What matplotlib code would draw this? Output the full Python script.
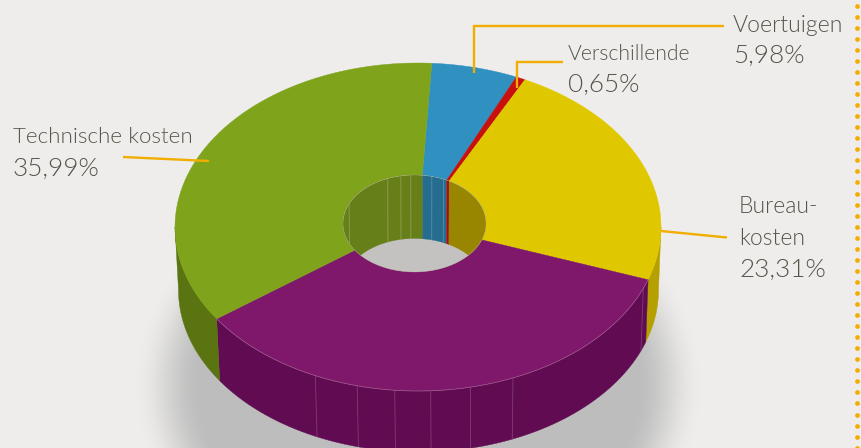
import numpy as np
import matplotlib
matplotlib.use("Agg")
import matplotlib.pyplot as plt
from matplotlib import font_manager as fm
from matplotlib.patches import Ellipse, Polygon

# ---- data (clockwise from the top)
categories = ["Voertuigen", "Verschillende", "Bureau-\nkosten", "Overig", "Technische kosten"]
shares = [5.98, 0.65, 23.31, 34.07, 35.99]
label_texts = ["5,98%", "0,65%", "23,31%", "", "35,99%"]

# ---- styles
top_colors = ["#3090C0", "#C8100F", "#E0C800", "#7F176B", "#7FA31A"]
outer_wall_colors = ["#24708F", "#8E0A0A", "#B5A000", "#600B52", "#5A7412"]
inner_wall_colors = ["#256C8E", "#A81010", "#988600", "#5E0F50", "#667F18"]
BG = "#EEEDEB"
ORANGE = "#F2AE00"
TXT = "#55554A"
START = 86.6
P = 0.045         # slight perspective of the disc
DEPTH = 63
OUT_TOP = dict(cx=418, cy=227, rx=243, ry=164)
OUT_BOT = dict(cx=418.5, cy=227 + DEPTH, rx=240, ry=162)
IN_TOP = dict(cx=414.5, cy=223.5, rx=71.5, ry=48.5)
IN_BOT = dict(cx=414.5, cy=223.5 + DEPTH, rx=71, ry=48)
OUT_SEAMS = [-115, -104.5, -95.5, -87, -77.5, -67, -22]
IN_SEAMS = [156, 112, 101, 93, 76, 66]

# pick Lato Light by file, since the weight lookup lands on Hairline
light = [f.fname for f in fm.fontManager.ttflist
         if f.name.startswith("Lato") and f.fname.endswith("Lato-Light.ttf")]
FP = fm.FontProperties(fname=light[0]) if light else fm.FontProperties(family="Lato")

fig = plt.figure(figsize=(8.61, 4.48), dpi=100, facecolor=BG)
ax = fig.add_axes([0, 0, 1, 1])
ax.set_xlim(0, 861)
ax.set_ylim(448, 0)
ax.axis("off")


def warp(deg):
    t = np.radians(deg)
    w = 1 + P * np.sin(t)
    x = np.cos(t) / w * np.sqrt(1 - P ** 2)
    y = (np.sin(t) / w + P / (1 - P ** 2)) * (1 - P ** 2)
    return np.degrees(np.arctan2(y, x))


def inner_angle(a):
    return a - 3.0 * (1 + np.sin(np.radians(a))) / 2


def arc(e, a0, a1, n=None):
    n = n or max(2, int(abs(a1 - a0)) + 2)
    t = np.radians(np.linspace(a0, a1, n))
    return np.column_stack([e["cx"] + e["rx"] * np.cos(t), e["cy"] - e["ry"] * np.sin(t)])


def overlap(lo, hi, wlo, whi):
    """Part of [lo, hi] inside the window, trying whole-turn shifts."""
    for k in (-360, 0, 360):
        a, b = max(lo + k, wlo), min(hi + k, whi)
        if b > a:
            return a, b
    return None


# soft shadow
yy, xx = np.mgrid[0:448, 0:861]
d = np.sqrt(((xx - 418) / 285.0) ** 2 + ((yy - 385) / 225.0) ** 2)
f = np.clip((1.0 - d) / 0.24, 0, 1)
f = f * f * (3 - 2 * f)
rgba = np.zeros((448, 861, 4))
rgba[..., :3] = 0.745
rgba[..., 3] = f
ax.imshow(rgba, extent=(0, 861, 448, 0), aspect="auto", zorder=1, interpolation="bilinear")

# segment boundaries from the values
cum = START - np.concatenate([[0], np.cumsum(shares)]) * 360.0 / sum(shares)
bounds = [(warp(float(cum[i + 1])), warp(float(cum[i]))) for i in range(len(shares))]
bounds = [(lo - 360 if lo > hi else lo, hi) for lo, hi in bounds]
in_bounds = [(inner_angle(lo), inner_angle(hi)) for lo, hi in bounds]

# outer wall
for (lo, hi), col in zip(bounds, outer_wall_colors):
    ov = overlap(lo, hi, -180, 0)
    if ov:
        pts = np.vstack([arc(OUT_TOP, ov[0], ov[1]), arc(OUT_BOT, ov[1], ov[0])])
        ax.add_patch(Polygon(pts, closed=True, fc=col, ec=col, lw=0.3, zorder=2))
for s in OUT_SEAMS:
    p, q = arc(OUT_TOP, s, s, 2)[0], arc(OUT_BOT, s, s, 2)[0]
    ax.plot([p[0], q[0]], [p[1], q[1]], color="#8A4A7E", lw=0.6, alpha=0.8, zorder=3)

# top face
for (lo, hi), (ilo, ihi), col in zip(bounds, in_bounds, top_colors):
    pts = np.vstack([arc(OUT_TOP, lo, hi), arc(IN_TOP, ihi, ilo)])
    ax.add_patch(Polygon(pts, closed=True, fc=col, ec=col, lw=0.3, zorder=4))
rim = arc(OUT_TOP, bounds[3][0], bounds[3][1])
ax.plot(rim[:, 0], rim[:, 1], color="#A0608F", lw=0.5, zorder=5)

# hole: floor seen through, then inner wall clipped to the hole
hole = Ellipse((IN_TOP["cx"], IN_TOP["cy"]), 2 * IN_TOP["rx"], 2 * IN_TOP["ry"],
               fc="#C3C2C0", ec="none", zorder=5)
ax.add_patch(hole)
for (lo, hi), col in zip(in_bounds, inner_wall_colors):
    ov = overlap(lo, hi, 0, 180)
    if ov:
        pts = np.vstack([arc(IN_TOP, ov[0], ov[1]), arc(IN_BOT, ov[1], ov[0])])
        pg = Polygon(pts, closed=True, fc=col, ec=col, lw=0.2, zorder=6)
        ax.add_patch(pg)
        pg.set_clip_path(hole)
for s in IN_SEAMS:
    p, q = arc(IN_TOP, s, s, 2)[0], arc(IN_BOT, s, s, 2)[0]
    ln, = ax.plot([p[0], q[0]], [p[1], q[1]], color="#A0AC70" if s > 90 else "#6AA0BC",
                  lw=0.7, alpha=0.6, zorder=7)
    ln.set_clip_path(hole)
ax.add_patch(Ellipse((IN_TOP["cx"], IN_TOP["cy"]), 2 * IN_TOP["rx"], 2 * IN_TOP["ry"],
                     fc="none", ec="#B0B08A", lw=0.4, alpha=0.5, zorder=8))

# leader lines
for xs, ys in [([474, 474, 724], [73, 26, 26]),
               ([517, 517, 563], [88, 62, 62]),
               ([661, 727], [231, 237.5]),
               ([123, 209], [157, 161])]:
    ax.plot(xs, ys, color=ORANGE, lw=1.7, solid_joinstyle="miter", solid_capstyle="butt", zorder=9)


# labels
def label(x, y, s, size):
    fp = FP.copy()
    fp.set_size(size)
    ax.text(x, y, s, fontproperties=fp, color=TXT, ha="left", va="baseline", zorder=10)


NUM = 18.8
b1, b2 = categories[2].split("\n")
label(733, 32, categories[0], 16.6)
label(733, 63, label_texts[0], NUM)
label(568, 60, categories[1], 15.2)
label(568, 92, label_texts[1], NUM)
label(739, 213, b1, 16.5)
label(739, 245, b2, 16.5)
label(739, 277, label_texts[2], NUM)
label(13, 143, categories[4], 16.1)
label(13, 176, label_texts[4], NUM)

# dotted rule at the right edge
dots_y = np.arange(5.7, 448, 11.05)
ax.plot(np.full_like(dots_y, 857.0), dots_y, ls="none", marker="o", ms=3.4, mfc=ORANGE, mec="none", zorder=9)

fig.savefig("out.png", dpi=100, facecolor=BG)
